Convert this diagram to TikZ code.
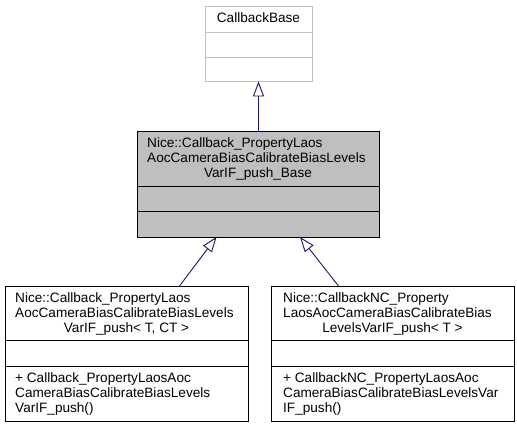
\documentclass[tikz,border=0pt]{standalone}
\usepackage{fontspec}
\setmainfont{Liberation Sans}
\usetikzlibrary{arrows.meta}
\definecolor{edgeblue}{HTML}{191970}
\definecolor{boxgray}{HTML}{BFBFBF}
\definecolor{lightframe}{HTML}{C0C0C0}
\tikzset{
  cls/.style={draw=black, line width=0.9pt, fill=white, inner sep=0pt},
  txt/.style={inner sep=0pt, font=\fontsize{13.6}{15}\selectfont, anchor=base west},
  txtc/.style={inner sep=0pt, font=\fontsize{13.6}{15}\selectfont, anchor=base},
  inh/.style={draw=edgeblue, line width=0.9pt, -{Triangle[open, length=15pt, width=11pt, fill=white]}},
}
\begin{document}
\begin{tikzpicture}[x=1pt,y=-1pt]
\useasboundingbox (0,0) rectangle (517,427);
% CallbackBase
\node[cls, draw=lightframe, minimum width=107pt, minimum height=75pt] (base) at (258.5,43.5) {};
\draw[lightframe, line width=0.9pt] (205,32) -- (312,32) (205,57) -- (312,57);
\node[txtc] (baset) at (258.5,22.5) {CallbackBase};
% middle
\node[cls, fill=boxgray, minimum width=242pt, minimum height=106pt] (mid) at (258,184) {};
\draw[line width=0.9pt] (137,186) -- (379,186) (137,211) -- (379,211);
\node[txt] (m1) at (147,148) {Nice::Callback\_PropertyLaos};
\node[txt] (m2) at (147,163) {AocCameraBiasCalibrateBiasLevels};
\node[txtc] (m3) at (258,178) {VarIF\_push\_Base};
% left
\node[cls, minimum width=243pt, minimum height=135pt] (left) at (126.5,353.5) {};
\draw[line width=0.9pt] (5,340) -- (248,340) (5,366) -- (248,366);
\node[txt] (l1) at (15,303) {Nice::Callback\_PropertyLaos};
\node[txt] (l2) at (15,318) {AocCameraBiasCalibrateBiasLevels};
\node[txtc] (l3) at (126.5,333) {VarIF\_push< T, CT >};
\node[txt] (l4) at (15,383) {+ Callback\_PropertyLaosAoc};
\node[txt] (l5) at (15,398) {CameraBiasCalibrateBiasLevels};
\node[txt] (l6) at (15,413) {VarIF\_push()};
% right
\node[cls, minimum width=243pt, minimum height=135pt] (right) at (392.5,353.5) {};
\draw[line width=0.9pt] (271,340) -- (514,340) (271,366) -- (514,366);
\node[txt] (r1) at (283,303) {Nice::CallbackNC\_Property};
\node[txt] (r2) at (283,318) {LaosAocCameraBiasCalibrateBias};
\node[txtc] (r3) at (392.5,333) {LevelsVarIF\_push< T >};
\node[txt] (r4) at (283,383) {+ CallbackNC\_PropertyLaosAoc};
\node[txt] (r5) at (283,398) {CameraBiasCalibrateBiasLevelsVar};
\node[txt] (r6) at (283,413) {IF\_push()};
% connectors
\coordinate (ltail) at (179.5,286);
\coordinate (lhead) at (216.5,237);
\coordinate (rtail) at (338.5,286);
\coordinate (rhead) at (300,237);
\draw[inh] (mid.north -| base.south) -- (base.south);
\draw[inh] (ltail) -- (lhead);
\draw[inh] (rtail) -- (rhead);
\end{tikzpicture}
\end{document}
